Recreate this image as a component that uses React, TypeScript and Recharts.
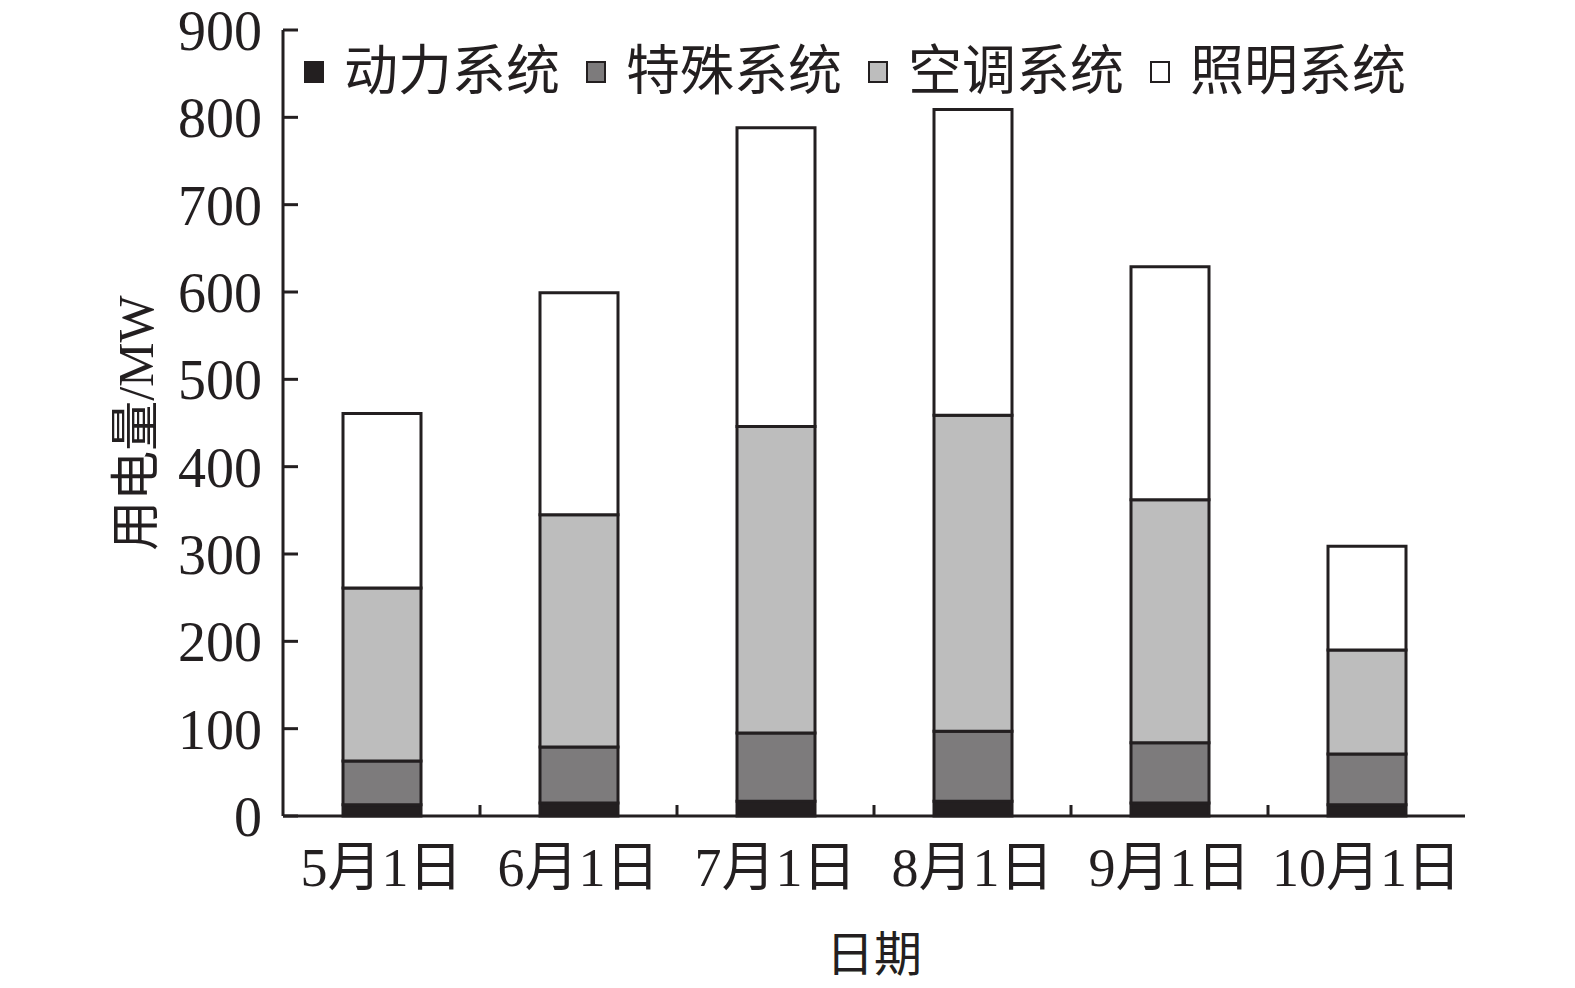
import { BarChart, Bar, XAxis, YAxis } from 'recharts';

const categories = ['5月1日', '6月1日', '7月1日', '8月1日', '9月1日', '10月1日'];
const power = [13, 15, 17, 17, 15, 13];
const special = [50, 64, 78, 80, 69, 58];
const airCon = [198, 266, 351, 362, 278, 119];
const lighting = [200, 254, 342, 350, 267, 119];
const yTicks = [0, 100, 200, 300, 400, 500, 600, 700, 800, 900];

const series = [
  { key: 'power', name: '动力系统', fill: '#231f20' },
  { key: 'special', name: '特殊系统', fill: '#7d7b7c' },
  { key: 'airCon', name: '空调系统', fill: '#bdbdbd' },
  { key: 'lighting', name: '照明系统', fill: '#ffffff' },
];

const data = categories.map((date, i) => ({
  date,
  power: power[i],
  special: special[i],
  airCon: airCon[i],
  lighting: lighting[i],
}));

const W = 1575;
const H = 988;
const LEFT = 283;
const RIGHT = 110;
const TOP = 30;
const BOTTOM = 172;
const PLOT_W = W - LEFT - RIGHT;
const INK = '#231f20';
const FONT = '"Liberation Serif", "Noto Sans CJK SC", serif';
const LABEL_GAP = 32;

function DateTick(props: any) {
  const { x, y, payload, index } = props;
  const half = PLOT_W / categories.length / 2;
  const axisY = y - LABEL_GAP;
  return (
    <g>
      <text x={x} y={y} dy="0.71em" textAnchor="middle" fill={INK} fontSize={54} fontFamily={FONT}>
        {payload.value}
      </text>
      {index < categories.length - 1 && (
        <line x1={x + half} x2={x + half} y1={axisY} y2={axisY - 11} stroke={INK} strokeWidth={3} />
      )}
    </g>
  );
}

function ChartLegend() {
  return (
    <div
      style={{
        position: 'absolute',
        left: 304,
        top: 40,
        display: 'flex',
        alignItems: 'center',
        fontFamily: FONT,
        fontSize: 54,
        color: INK,
        lineHeight: '64px',
      }}
    >
      {series.map((s) => (
        <div key={s.key} style={{ display: 'flex', alignItems: 'center', marginRight: 26 }}>
          <span
            style={{
              display: 'inline-block',
              width: 16,
              height: 18,
              background: s.fill,
              border: `2px solid ${INK}`,
              marginRight: 20,
            }}
          />
          <span>{s.name}</span>
        </div>
      ))}
    </div>
  );
}

export default function App() {
  return (
    <div style={{ position: 'absolute', left: 0, top: 0, width: W, height: H, background: '#fff' }}>
      <BarChart
        width={W}
        height={H}
        data={data}
        margin={{ top: TOP, right: RIGHT, left: 0, bottom: 0 }}
      >
        <XAxis
          xAxisId="main"
          dataKey="date"
          height={BOTTOM}
          tickSize={0}
          tickMargin={LABEL_GAP}
          tickLine={false}
          tick={<DateTick />}
          interval={0}
          axisLine={{ stroke: INK, strokeWidth: 3 }}
          label={{ value: '日期', position: 'center', dy: 52, fill: INK, fontSize: 48, fontFamily: FONT }}
        />
        <XAxis
          xAxisId="top"
          orientation="top"
          dataKey="date"
          height={0}
          tick={false}
          tickLine={false}
          axisLine={{ stroke: INK, strokeWidth: 3 }}
        />
        <YAxis
          yAxisId="main"
          width={LEFT}
          domain={[0, 900]}
          ticks={yTicks}
          interval={0}
          tickSize={-15}
          tickMargin={36}
          tickLine={{ stroke: INK, strokeWidth: 3 }}
          axisLine={{ stroke: INK, strokeWidth: 3 }}
          tick={{ fill: INK, fontSize: 56, fontFamily: FONT }}
          label={{ value: '用电量/MW', angle: -90, position: 'center', dx: -6, fill: INK, fontSize: 50, fontFamily: FONT }}
        />
        <YAxis
          yAxisId="right"
          orientation="right"
          width={0}
          domain={[0, 900]}
          tick={false}
          tickLine={false}
          axisLine={{ stroke: INK, strokeWidth: 3 }}
        />
        {series.map((s) => (
          <Bar
            key={s.key}
            xAxisId="main"
            yAxisId="main"
            dataKey={s.key}
            name={s.name}
            stackId="total"
            fill={s.fill}
            stroke={INK}
            strokeWidth={3}
            barSize={78}
            isAnimationActive={false}
          />
        ))}
      </BarChart>
      <ChartLegend />
    </div>
  );
}
